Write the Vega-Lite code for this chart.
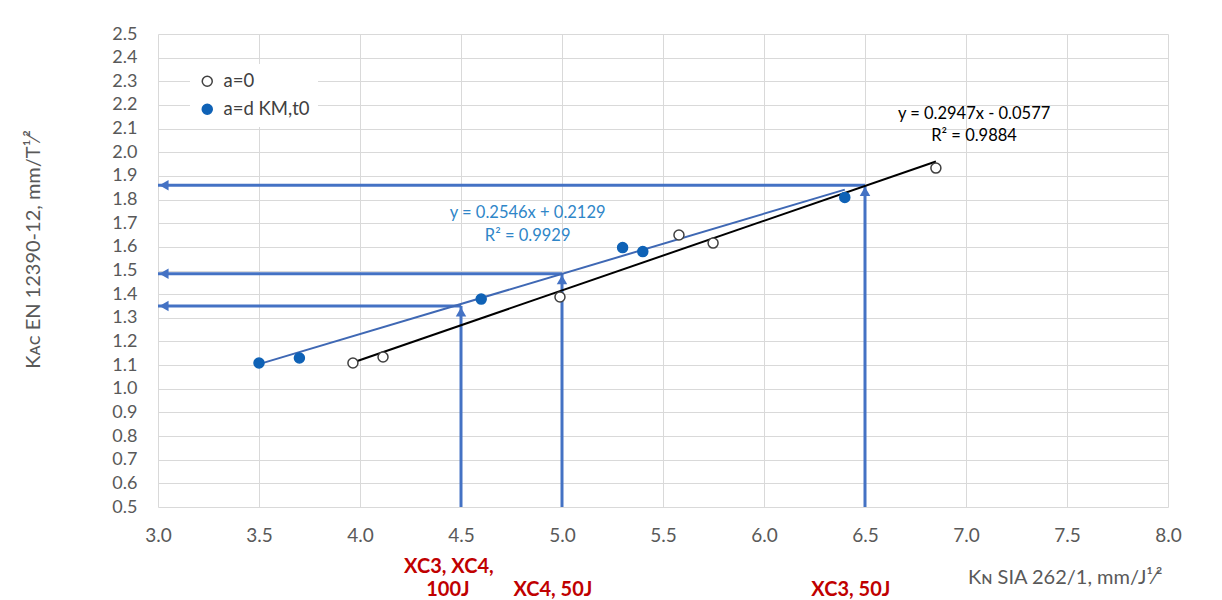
{
  "$schema": "https://vega.github.io/schema/vega-lite/v6.json",
  "width": 1010,
  "height": 473,
  "autosize": "none",
  "padding": {"left": 158, "top": 34, "right": 54, "bottom": 93},
  "background": "white",
  "config": {
    "font": "Lato",
    "view": {"stroke": null},
    "axis": {
      "labelFont": "Lato",
      "labelFontSize": 19,
      "labelColor": "#595959",
      "labelFlush": false,
      "labelOverlap": false,
      "titleFont": "Lato",
      "titleFontSize": 20,
      "titleFontWeight": "normal",
      "titleColor": "#595959",
      "gridColor": "#D9D9D9",
      "gridWidth": 1,
      "domain": false,
      "ticks": false
    },
    "axisY": {"tickCount": 30}
  },
  "datasets": {
    "points": [
      {"series": "a=0", "kn": 3.965, "kac": 1.109},
      {"series": "a=0", "kn": 4.114, "kac": 1.134},
      {"series": "a=0", "kn": 4.99, "kac": 1.388},
      {"series": "a=0", "kn": 5.579, "kac": 1.65},
      {"series": "a=0", "kn": 5.748, "kac": 1.616},
      {"series": "a=0", "kn": 6.851, "kac": 1.933},
      {"series": "a=d KM,t0", "kn": 3.5, "kac": 1.109},
      {"series": "a=d KM,t0", "kn": 3.7, "kac": 1.13},
      {"series": "a=d KM,t0", "kn": 4.6, "kac": 1.379},
      {"series": "a=d KM,t0", "kn": 5.3, "kac": 1.597},
      {"series": "a=d KM,t0", "kn": 5.4, "kac": 1.58},
      {"series": "a=d KM,t0", "kn": 6.4, "kac": 1.809}
    ],
    "fits": [
      {"series": "a=0", "kn": 3.965, "kac": 1.111},
      {"series": "a=0", "kn": 6.851, "kac": 1.961},
      {"series": "a=d KM,t0", "kn": 3.5, "kac": 1.104},
      {"series": "a=d KM,t0", "kn": 6.4, "kac": 1.842}
    ],
    "levels": [
      {"kn_axis": 3.0, "kn": 4.5, "kac_axis": 0.5, "kac": 1.35},
      {"kn_axis": 3.0, "kn": 5.0, "kac_axis": 0.5, "kac": 1.486},
      {"kn_axis": 3.0, "kn": 6.5, "kac_axis": 0.5, "kac": 1.86}
    ],
    "equations": [
      {"series": "a=0", "kn": 7.04, "kac": 2.162, "label": "y = 0.2947x - 0.0577"},
      {"series": "a=0", "kn": 7.04, "kac": 2.069, "label": "R² = 0.9884"},
      {"series": "a=d KM,t0", "kn": 4.83, "kac": 1.743, "label": "y = 0.2546x + 0.2129"},
      {"series": "a=d KM,t0", "kn": 4.83, "kac": 1.646, "label": "R² = 0.9929"}
    ],
    "classes": [
      {"kn": 4.44, "kac": 0.246, "label": "XC3, XC4,"},
      {"kn": 4.435, "kac": 0.147, "label": "100J"},
      {"kn": 4.955, "kac": 0.147, "label": "XC4, 50J"},
      {"kn": 6.43, "kac": 0.147, "label": "XC3, 50J"}
    ]
  },
  "layer": [
    {
      "data": {"name": "levels"},
      "mark": {"type": "rule", "color": "#4472C4", "strokeWidth": 3},
      "encoding": {
        "x": {
          "field": "kn_axis",
          "type": "quantitative",
          "scale": {"domain": [3, 8], "nice": false, "zero": false},
          "axis": {
            "values": [3, 3.5, 4, 4.5, 5, 5.5, 6, 6.5, 7, 7.5, 8],
            "format": ".1f",
            "labelPadding": 19,
            "title": "Kɴ SIA 262/1, mm/J¹⁄²",
            "titleAnchor": "end",
            "titleAlign": "right",
            "titleBaseline": "middle",
            "titleX": 1004,
            "titleY": 70
          }
        },
        "x2": {"field": "kn"},
        "y": {
          "field": "kac",
          "type": "quantitative",
          "scale": {"domain": [0.5, 2.5], "nice": false, "zero": false},
          "axis": {
            "values": [0.5, 0.6, 0.7, 0.8, 0.9, 1.0, 1.1, 1.2, 1.3, 1.4, 1.5, 1.6, 1.7, 1.8, 1.9, 2.0, 2.1, 2.2, 2.3, 2.4, 2.5],
            "tickCount": 30,
            "format": ".1f",
            "labelFontSize": 18,
            "labelBaseline": "middle",
            "labelPadding": 21,
            "title": "Kᴀᴄ EN 12390-12, mm/T¹⁄²",
            "titleAngle": 270,
            "titleAlign": "center",
            "titleBaseline": "middle",
            "titleX": -125,
            "titleY": 215
          }
        }
      }
    },
    {
      "data": {"name": "levels"},
      "mark": {"type": "rule", "color": "#4472C4", "strokeWidth": 3},
      "encoding": {
        "x": {"field": "kn", "type": "quantitative"},
        "y": {"field": "kac_axis", "type": "quantitative"},
        "y2": {"field": "kac"}
      }
    },
    {
      "data": {"name": "levels"},
      "mark": {"type": "point", "shape": "triangle-left", "filled": true, "color": "#4472C4", "size": 110, "opacity": 1, "xOffset": 6},
      "encoding": {
        "x": {"field": "kn_axis", "type": "quantitative"},
        "y": {"field": "kac", "type": "quantitative"}
      }
    },
    {
      "data": {"name": "levels"},
      "mark": {"type": "point", "shape": "triangle-up", "filled": true, "color": "#4472C4", "size": 110, "opacity": 1, "yOffset": 6},
      "encoding": {
        "x": {"field": "kn", "type": "quantitative"},
        "y": {"field": "kac", "type": "quantitative"}
      }
    },
    {
      "data": {"name": "fits"},
      "transform": [{"filter": "datum.series === 'a=0'"}],
      "mark": {"type": "line", "color": "#000000", "strokeWidth": 2},
      "encoding": {
        "x": {"field": "kn", "type": "quantitative"},
        "y": {"field": "kac", "type": "quantitative"}
      }
    },
    {
      "data": {"name": "fits"},
      "transform": [{"filter": "datum.series === 'a=d KM,t0'"}],
      "mark": {"type": "line", "color": "#3F68B4", "strokeWidth": 2},
      "encoding": {
        "x": {"field": "kn", "type": "quantitative"},
        "y": {"field": "kac", "type": "quantitative"}
      }
    },
    {
      "data": {"name": "points"},
      "mark": {"type": "point", "shape": "circle", "size": 100, "strokeWidth": 1.5, "opacity": 1},
      "encoding": {
        "x": {"field": "kn", "type": "quantitative"},
        "y": {"field": "kac", "type": "quantitative"},
        "fill": {
          "field": "series",
          "type": "nominal",
          "scale": {"domain": ["a=0", "a=d KM,t0"], "range": ["#FFFFFF", "#0F62B6"]},
          "legend": {
            "title": null,
            "orient": "none",
            "legendX": 32,
            "legendY": 30,
            "padding": 8,
            "fillColor": "#FFFFFF",
            "labelFont": "Lato",
            "labelFontSize": 18.5,
            "labelColor": "#404040",
            "labelOffset": 7,
            "rowPadding": 9,
            "symbolSize": 100,
            "symbolStrokeWidth": 1.5
          }
        },
        "stroke": {
          "field": "series",
          "type": "nominal",
          "scale": {"domain": ["a=0", "a=d KM,t0"], "range": ["#404040", "#0F62B6"]}
        }
      }
    },
    {
      "data": {"name": "equations"},
      "mark": {"type": "text", "fontSize": 16.5, "align": "center", "baseline": "middle"},
      "encoding": {
        "x": {"field": "kn", "type": "quantitative"},
        "y": {"field": "kac", "type": "quantitative"},
        "text": {"field": "label"},
        "color": {
          "field": "series",
          "type": "nominal",
          "scale": {"domain": ["a=0", "a=d KM,t0"], "range": ["#000000", "#2F86C8"]},
          "legend": null
        }
      }
    },
    {
      "data": {"name": "classes"},
      "mark": {"type": "text", "fontSize": 20, "fontWeight": "bold", "color": "#C00000", "align": "center", "baseline": "middle"},
      "encoding": {
        "x": {"field": "kn", "type": "quantitative"},
        "y": {"field": "kac", "type": "quantitative"},
        "text": {"field": "label"}
      }
    }
  ]
}
